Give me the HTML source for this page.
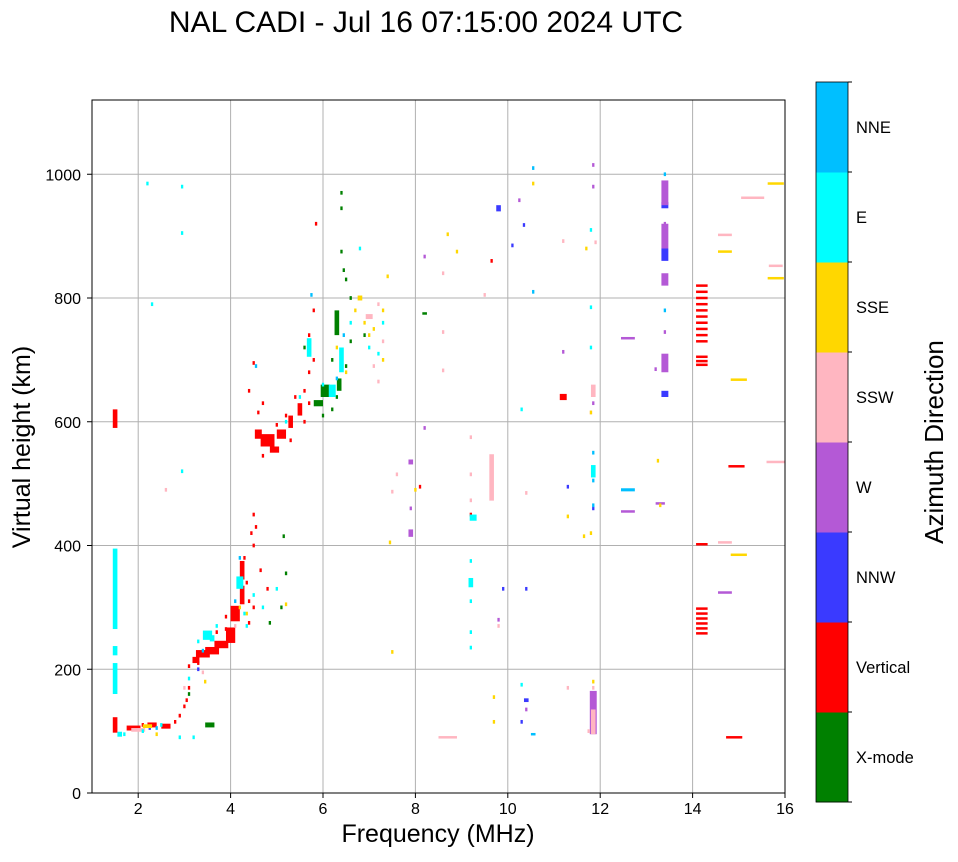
<!DOCTYPE html>
<html><head><meta charset="utf-8"><style>
body{margin:0;background:#fff;font-family:"Liberation Sans",sans-serif;}
svg text{font-family:"Liberation Sans",sans-serif;}
</style></head><body>
<svg id="chart" width="958" height="857" xmlns="http://www.w3.org/2000/svg">
<text x="426" y="32" font-size="30" text-anchor="middle">NAL CADI - Jul 16 07:15:00 2024 UTC</text>
<g id="grid"></g>
<g id="marks"></g>
<rect x="92" y="100" width="693" height="693" fill="none" stroke="#000" stroke-width="1"/>
<g id="axes"></g>
<text x="438" y="842" font-size="25" text-anchor="middle">Frequency (MHz)</text>
<text transform="translate(30,447) rotate(-90)" font-size="25" text-anchor="middle">Virtual height (km)</text>
<g id="cbar"></g>
<text transform="translate(943,442) rotate(-90)" font-size="26" text-anchor="middle">Azimuth Direction</text>
</svg>
<script>
const xTicks=[2,4,6,8,10,12,14,16];
const yTicks=[0,200,400,600,800,1000];
const dirNames=["X-mode","Vertical","NNW","W","SSW","SSE","E","NNE"];
const dirColors=["#008000","#ff0000","#3a3aff","#b459d6","#ffb6c1","#ffd700","#00ffff","#00bfff"];
// points: [freqMHz, heightKm, freqSpanMHz?, heightSpanKm?]
const xmodePts=[[6.4,970],[6.4,945],[6.4,875],[6.45,845],[6.5,830],[6.3,760,0.1,40],[6.2,700],[6.05,650,0.2,20],[5.9,630,0.2,10],[6.3,640],[6.6,730],[8.2,775,0.1,3],[3.55,110,0.2,8],[3.1,160],[4.85,275],[5.2,355],[5.1,300],[5.15,415],[6.5,690],[6.9,740],[5.6,720],[6.35,660,0.1,20],[6.6,800],[6.2,620],[6.0,610]];
const verticalPts=[[1.5,605,0.1,30],[1.5,110,0.1,25],[1.9,105,0.3,8],[2.3,110,0.2,8],[2.6,108,0.2,8],[2.8,115],[2.9,125],[3.0,140],[3.05,150],[3.1,170],[3.1,205],[3.25,215,0.15,10],[3.4,225,0.3,12],[3.6,230,0.3,12],[3.8,240,0.3,12],[4.0,255,0.2,25],[4.1,290,0.2,25],[4.25,320,0.1,30],[4.25,360,0.1,30],[4.3,380],[4.45,420],[4.5,450],[4.8,570,0.3,20],[4.95,555,0.2,10],[5.1,580,0.2,15],[5.3,600,0.1,20],[5.5,620,0.1,20],[5.6,650],[5.7,680],[5.8,780],[5.85,920],[4.4,650],[4.5,695],[4.7,630],[4.65,360],[4.8,330],[8.1,495],[9.2,450],[9.65,860],[11.2,640,0.15,10],[14.2,820,0.25,3],[14.2,810,0.25,3],[14.2,800,0.25,3],[14.2,790,0.25,3],[14.2,780,0.25,3],[14.2,770,0.25,3],[14.2,760,0.25,3],[14.2,750,0.25,3],[14.2,740,0.25,3],[14.2,730,0.25,3],[14.2,705,0.25,3],[14.2,698,0.25,3],[14.2,692,0.25,3],[14.2,298,0.25,3],[14.2,290,0.25,3],[14.2,282,0.25,3],[14.2,274,0.25,3],[14.2,266,0.25,3],[14.2,258,0.25,3],[14.2,402,0.25,3],[14.9,90,0.35,3],[14.95,528,0.35,3],[3.7,260],[3.9,265],[4.5,300],[4.4,275],[4.6,580,0.15,15],[5.0,595],[5.2,610],[5.4,640],[5.6,600],[4.35,340],[4.4,310],[4.5,400],[4.55,430],[3.9,285],[4.7,545],[5.8,700],[5.7,740],[2.1,110],[3.3,210],[4.6,615],[5.3,570],[5.7,630]];
const nnwPts=[[9.8,945,0.1,10],[10.1,885],[10.35,918],[10.4,330],[10.4,150,0.1,6],[10.3,115],[11.3,495],[13.4,950,0.15,10],[13.4,870,0.15,20],[13.4,645,0.15,10],[9.9,330],[11.85,460],[3.3,200],[2.25,105]];
const wPts=[[13.4,970,0.15,40],[13.4,900,0.15,40],[13.4,830,0.15,20],[13.4,695,0.15,30],[13.4,745],[13.4,920],[13.2,685],[13.3,468,0.2,4],[12.6,735,0.3,3],[12.6,455,0.3,3],[11.85,1015],[11.85,980],[11.85,130,0.15,70],[10.25,958],[11.2,713],[14.7,324,0.3,3],[7.9,420,0.1,12],[7.9,535,0.1,8],[7.9,460],[8.2,590],[8.2,867],[9.8,280],[10.4,135],[11.85,630],[11.85,160]];
const sswPts=[[9.65,510,0.1,75],[11.85,650,0.1,20],[11.8,615],[8.7,90,0.4,3],[11.3,170],[11.9,890],[11.2,892],[8.6,840],[8.6,745],[8.6,683],[9.2,575],[9.2,515],[9.2,473],[9.5,805],[10.4,485],[14.7,405,0.3,3],[14.7,902,0.3,3],[15.3,962,0.5,3],[15.8,535,0.4,3],[15.8,852,0.3,3],[7.0,770,0.15,8],[7.3,730],[7.1,690],[7.2,665],[11.85,115,0.1,40],[9.8,270],[2.6,490],[7.5,487],[7.6,515],[2.0,102,0.3,6],[11.75,100],[11.85,170],[3.4,195],[3.0,170],[4.1,270],[7.2,790]];
const ssePts=[[1.5,300],[1.5,360],[1.5,280],[1.5,390],[2.4,95],[2.2,108,0.2,6],[3.45,180],[4.35,290],[5.2,305],[6.7,780],[6.8,800,0.1,8],[7.0,740],[7.3,700],[7.4,835],[7.5,228],[7.45,405],[8.0,490],[8.7,903],[8.9,875],[9.7,155],[9.7,115],[10.55,985],[11.3,447],[11.7,880],[11.8,615],[11.8,420],[11.65,415],[11.85,180],[13.25,537],[13.3,465],[14.7,875,0.3,3],[15.0,668,0.35,3],[15.0,385,0.35,3],[15.8,985,0.35,3],[15.8,832,0.35,3],[6.3,720],[6.5,680],[4.2,300],[7.1,750],[7.3,780],[6.9,760]];
const ePts=[[1.5,330,0.1,130],[1.5,185,0.1,50],[1.5,230,0.1,15],[1.7,95],[2.2,985],[2.3,790],[2.95,980],[2.95,905],[2.95,520],[2.9,90],[3.2,90],[3.3,245],[3.5,255,0.2,15],[3.7,270],[4.2,340,0.15,20],[4.5,320],[4.7,300],[5.0,330],[5.2,600],[5.7,720,0.1,30],[6.2,650,0.15,20],[6.4,700,0.1,40],[6.6,760],[6.8,880],[7.2,710],[7.3,760],[9.25,445,0.15,10],[9.2,375],[9.2,340,0.1,15],[9.2,310],[9.2,260],[9.2,235],[10.3,175],[10.3,620],[11.85,520,0.1,20],[11.8,785],[11.8,910],[11.8,720],[2.5,110],[2.1,100],[3.1,185],[1.6,95,0.1,8],[3.6,250,0.1,10],[4.3,290],[4.35,270],[5.5,640],[6.0,660],[7.0,720]];
const nnePts=[[10.55,95,0.1,4],[10.55,1010],[10.55,810],[11.85,550],[11.85,505],[11.85,465],[12.6,490,0.3,5],[13.4,1000],[13.4,780],[5.75,805],[6.45,740],[6.3,670],[4.55,690],[2.4,105],[4.2,380],[3.4,230],[4.1,310]];
const seriesPts=[xmodePts,verticalPts,nnwPts,wPts,sswPts,ssePts,ePts,nnePts];

const X0=92,X1=785,Y0=793,Y1=100,XMIN=1,XMAX=16,YMIN=0,YMAX=1120;
const xs=f=>X0+(f-XMIN)/(XMAX-XMIN)*(X1-X0);
const ys=h=>Y0-(h-YMIN)/(YMAX-YMIN)*(Y0-Y1);
const NS="http://www.w3.org/2000/svg";
function mk(tag,attrs,parent){const e=document.createElementNS(NS,tag);for(const k in attrs)e.setAttribute(k,attrs[k]);parent.appendChild(e);return e;}
const grid=document.getElementById('grid'),axes=document.getElementById('axes'),marks=document.getElementById('marks'),cbar=document.getElementById('cbar');
xTicks.forEach(t=>{const x=xs(t);
 const g=mk('line',{x1:x,x2:x,y1:Y1,y2:Y0,stroke:'#b0b0b0','stroke-width':1},grid);
 
 mk('line',{x1:x,x2:x,y1:Y0,y2:Y0+5,stroke:'#000'},axes);
 const tx=mk('text',{x:x,y:Y0+21,'font-size':16,'text-anchor':'middle'},axes);tx.textContent=t;
 });
yTicks.forEach(t=>{const y=ys(t);
 const g=mk('line',{x1:X0,x2:X1,y1:y,y2:y,stroke:'#b0b0b0','stroke-width':1},grid);
 
 mk('line',{x1:X0-5,x2:X0,y1:y,y2:y,stroke:'#000'},axes);
 const tx=mk('text',{x:X0-11,y:y+6,'font-size':16,'text-anchor':'end'},axes);tx.textContent=t;
 });
const pxPerMHz=(X1-X0)/(XMAX-XMIN),pxPerKm=(Y0-Y1)/(YMAX-YMIN);
seriesPts.forEach((pts,d)=>{pts.forEach(p=>{
 const fw=p[2]||0.05,hk=p[3]||6;
 const w=Math.max(2,fw*pxPerMHz),h=Math.max(2.5,hk*pxPerKm);
 const r=mk('rect',{x:xs(p[0])-w/2,y:ys(p[1])-h/2,width:w,height:h,fill:dirColors[d]},marks);
 
 });});
const CX=816,CW=32,CT=82,CB=802,seg=(CB-CT)/dirNames.length;
dirNames.forEach((n,i)=>{const y=CB-(i+1)*seg;
 const r=mk('rect',{x:CX,y:y,width:CW,height:seg+0.5,fill:dirColors[i]},cbar);
 
 const tx=mk('text',{x:CX+CW+8,y:y+seg/2+6,'font-size':16.5},cbar);tx.textContent=n;
 });
for(let i=0;i<=dirNames.length;i++){const y=CB-i*seg;mk('line',{x1:CX+CW,x2:CX+CW+4,y1:y,y2:y,stroke:'#000'},cbar);}
mk('rect',{x:CX,y:CT,width:CW,height:CB-CT,fill:'none',stroke:'#000','stroke-width':0.8},cbar);
</script>
</body></html>
